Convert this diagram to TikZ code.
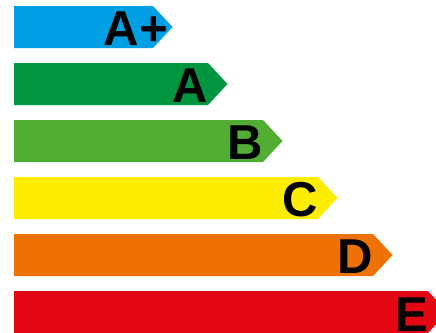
\documentclass[tikz,border=0pt]{standalone}
\usepackage{fontspec}
\setmainfont{Liberation Sans}
\usetikzlibrary{positioning}
\definecolor{classAplus}{HTML}{009FE3}
\definecolor{classA}{HTML}{009640}
\definecolor{classB}{HTML}{52AE32}
\definecolor{classC}{HTML}{FFED00}
\definecolor{classD}{HTML}{EE7203}
\definecolor{classE}{HTML}{E30613}
% #1 colour, #2 top edge, #3 end of the straight part
\newcommand{\ratingbar}[3]{%
  \fill[#1] (14,#2) -- (#3,#2) -- (#3+19.5,#2-21) -- (#3,#2-42)
    -- (14,#2-42) -- cycle;}

\begin{document}
\begin{tikzpicture}[x=1pt, y=1pt,
  classlabel/.style={anchor=base east, inner sep=0pt, text=black,
    font=\fontsize{49}{49}\selectfont\bfseries}]
  \useasboundingbox (0,-332) rectangle (436,0);
  \clip (0,-332) rectangle (436,0);
  \ratingbar{classAplus}{-6}{153}
  \ratingbar{classA}{-63}{208}
  \ratingbar{classB}{-120}{263}
  \ratingbar{classC}{-177}{318}
  \ratingbar{classD}{-234}{373}
  \ratingbar{classE}{-291}{428}
  \node[classlabel] (lblAplus) at (168,-45) {A+};
  \node[classlabel] (lblA) at (208,-102) {A};
  \node[classlabel] (lblB) at (263,-159) {B};
  \node[classlabel] (lblC) at (318,-216) {C};
  \node[classlabel] (lblD) at (373,-273) {D};
  \node[classlabel] (lblE) at (428,-331.5) {E};
\end{tikzpicture}
\end{document}
